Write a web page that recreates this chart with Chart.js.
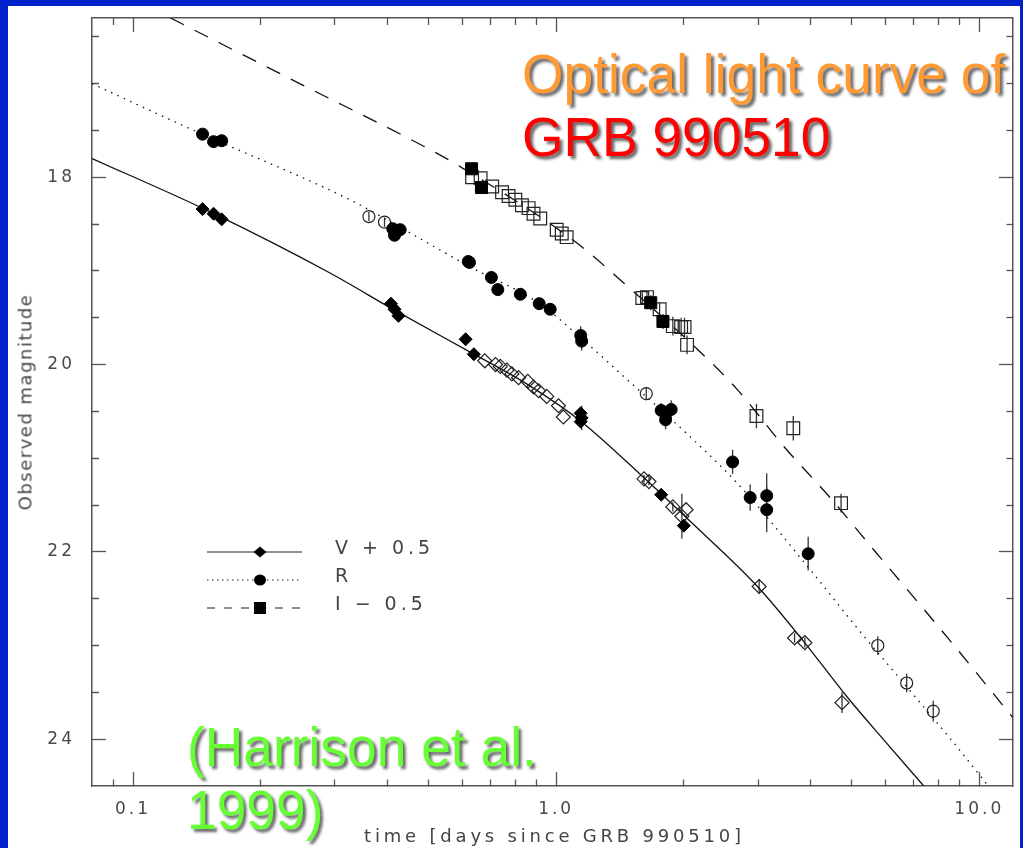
<!DOCTYPE html>
<html>
<head>
<meta charset="utf-8">
<title>GRB 990510 optical light curve</title>
<script src="https://cdn.jsdelivr.net/npm/chart.js@4.4.1/dist/chart.umd.min.js"></script>
<style>
  html, body { margin: 0; padding: 0; }
  body { width: 1023px; height: 848px; background: #0022cc; position: relative; overflow: hidden; }
  #sheet { position: absolute; left: 8px; top: 6px; width: 1012px; height: 842px; background: #fff; }
  #lc { position: absolute; left: 0; top: 0; }
  .axis-title { position: absolute; font-family: 'DejaVu Sans', sans-serif; color: #444; white-space: nowrap; }
  #xTitle { left: 92px; width: 925px; top: 825px; font-size: 18px; line-height: 21px; letter-spacing: 3.8px; text-align: center; }
  #yTitle { left: 25px; top: 402px; font-size: 18px; line-height: 21px; letter-spacing: 1.5px; transform: translate(-50%, -50%) rotate(-90deg); }
  .slide-text { position: absolute; font-family: 'Liberation Sans', Arial, sans-serif; font-size: 55px; line-height: 63px; white-space: nowrap; text-shadow: 3px 3px 3px rgba(0, 0, 0, 0.6); transform-origin: 0 0; transform: scaleX(0.97); }
  #headline { left: 522px; top: 43px; }
  #headline .l1 { color: #ff9933; }
  #headline .l2 { color: #ff0000; }
  #credit { left: 187px; top: 716px; color: #66ff33; }
</style>
</head>
<body>
<div id="sheet"></div>
<canvas id="lc" width="1023" height="848"></canvas>
<div class="axis-title" id="xTitle">time [days since GRB 990510]</div>
<div class="axis-title" id="yTitle">Observed magnitude</div>
<div class="slide-text" id="headline"><span class="l1">Optical light curve of</span><br><span class="l2">GRB 990510</span></div>
<div class="slide-text" id="credit">(Harrison et al.<br>1999)</div>

<script>
// V band, shifted by +0.5 mag
const vFillT   = [0.146, 0.155, 0.162, 0.407, 0.415, 0.424, 0.611, 0.639, 1.143, 1.149, 1.143, 1.771, 2.003];
const vFillMag = [18.34, 18.39, 18.45, 19.35, 19.41, 19.48, 19.73, 19.89, 20.52, 20.57, 20.61, 21.39, 21.72];
const vFillErr = [0, 0, 0, 0, 0, 0, 0, 0, 0, 0.13, 0, 0.05, 0];

const vOpenT   = [0.678, 0.719, 0.738, 0.765, 0.786, 0.815, 0.857, 0.884, 0.909, 0.950, 1.013, 1.040,
                  1.613, 1.657, 1.887, 2.028, 1.982, 3.018, 3.660, 3.871, 4.738];
const vOpenMag = [19.96, 20.00, 20.02, 20.06, 20.10, 20.14, 20.18, 20.24, 20.28, 20.34, 20.44, 20.56,
                  21.22, 21.25, 21.52, 21.55, 21.62, 22.37, 22.92, 22.97, 23.61];
const vOpenErr = [0, 0, 0, 0, 0, 0, 0, 0, 0, 0, 0, 0,
                  0.04, 0.04, 0.05, 0, 0.24, 0.08, 0.05, 0.05, 0.11];

// R band
const rFillT   = [0.146, 0.155, 0.162, 0.411, 0.418, 0.428, 0.415, 0.620, 0.624, 0.703, 0.728, 0.823,
                  0.912, 0.968, 1.143, 1.149, 1.771, 1.870, 1.814, 2.612, 2.874, 3.145, 3.145, 3.941];
const rFillMag = [17.54, 17.62, 17.61, 18.55, 18.58, 18.56, 18.62, 18.90, 18.91, 19.07, 19.20, 19.25,
                  19.35, 19.41, 19.69, 19.75, 20.49, 20.48, 20.59, 21.04, 21.42, 21.40, 21.55, 22.02];
const rFillErr = [0, 0, 0, 0, 0, 0, 0.05, 0, 0.03, 0, 0, 0.03,
                  0, 0, 0.1, 0.1, 0.08, 0.1, 0.1, 0.13, 0.14, 0.24, 0.24, 0.18];

const rOpenT   = [0.361, 0.393, 1.633, 5.756, 6.736, 7.784];
const rOpenMag = [18.42, 18.48, 20.31, 23.00, 23.40, 23.70];
const rOpenErr = [0.05, 0.05, 0.07, 0.10, 0.10, 0.11];

// I band, shifted by -0.5 mag
const iFillT   = [0.631, 0.666, 1.673, 1.788];
const iFillMag = [17.91, 18.11, 19.34, 19.54];
const iFillErr = [0, 0, 0.08, 0.08];

const iOpenT   = [0.633, 0.663, 0.706, 0.745, 0.772, 0.801, 0.830, 0.861, 0.884, 0.917, 1.003, 1.031,
                  1.059, 1.598, 1.639, 1.756, 1.887, 1.974, 2.011, 2.039, 2.974, 3.634, 4.713];
const iOpenMag = [18.00, 18.01, 18.10, 18.16, 18.20, 18.24, 18.30, 18.33, 18.39, 18.44, 18.56, 18.60,
                  18.64, 19.29, 19.28, 19.41, 19.59, 19.60, 19.60, 19.79, 20.55, 20.68, 21.48];
const iOpenErr = [0, 0, 0, 0, 0, 0, 0, 0, 0, 0, 0, 0,
                  0, 0.06, 0.06, 0.07, 0.1, 0.1, 0.1, 0.1, 0.13, 0.13, 0.1];

// model light curves, one per band
const vFitT   = [0.08, 0.1522, 0.2914, 0.4189, 0.622, 0.861, 1.147, 1.622, 2.047, 3.006, 3.836, 4.873, 5.953, 7.393];
const vFitMag = [17.80, 18.37, 19.02, 19.43, 19.86, 20.22, 20.61, 21.22, 21.65, 22.38, 22.95, 23.55, 24.01, 24.50];

const rFitT   = [0.08, 0.110, 0.1457, 0.3252, 0.4496, 0.622, 0.9136, 1.147, 1.479, 1.908, 2.683, 3.984, 5.138, 6.736, 8.596, 10.50];
const rFitMag = [17.00, 17.29, 17.54, 18.24, 18.59, 18.95, 19.35, 19.72, 20.17, 20.62, 21.27, 22.19, 22.81, 23.44, 24.01, 24.50];

const iFitT   = [0.1226, 0.2477, 0.5009, 0.5796, 1.110, 1.479, 2.126, 2.683, 3.460, 4.440, 5.634, 8.502, 12.0];
const iFitMag = [16.30, 17.00, 17.70, 17.86, 18.69, 19.17, 19.81, 20.27, 20.88, 21.42, 21.98, 22.94, 23.77];

// axes
const dayTicks  = [0.09, 0.1, 0.2, 0.3, 0.4, 0.5, 0.6, 0.7, 0.8, 0.9, 1, 2, 3, 4, 5, 6, 7, 8, 9, 10];
const dayMajor  = [0.1, 1, 10];
const dayLabels = ['0.1', '1.0', '10.0'];
const magTicks  = [16.5, 17, 17.5, 18, 18.5, 19, 19.5, 20, 20.5, 21, 21.5, 22, 22.5, 23, 23.5, 24];
const magMajor  = [18, 20, 22, 24];
const magLabels = ['18', '20', '22', '24'];

const key = [
    { label: 'V + 0.5', dash: [], shape: 'diamond' },
    { label: 'R', dash: [1.5, 3.5], shape: 'circle' },
    { label: 'I \u2212 0.5', dash: [8, 9], shape: 'square' }
];

function points(t, m) {
    return t.map((d, i) => ({ x: d, y: m[i] }));
}

function markers(t, m, err, style, radius, filled) {
    return {
        data: points(t, m),
        errors: err,
        pointStyle: style,
        pointRadius: radius,
        pointBorderWidth: filled ? 1 : 1.2,
        pointBackgroundColor: filled ? '#000' : 'rgba(0,0,0,0)',
        pointBorderColor: filled ? '#000' : '#222',
        showLine: false
    };
}

function curve(t, m, dash) {
    return {
        data: points(t, m),
        showLine: true,
        pointRadius: 0,
        borderColor: '#111',
        borderWidth: 1.3,
        borderDash: dash,
        cubicInterpolationMode: 'monotone'
    };
}

// minor ticks are half as long as the major ones
function tickDash(majors, fromInside) {
    return (ctx) => {
        if (!ctx.tick || majors.includes(ctx.tick.value)) return [];
        return fromInside ? [0, 7, 7, 40] : [7, 40];
    };
}

function axisGrid(majors, fromInside) {
    return {
        drawOnChartArea: false,
        drawTicks: true,
        tickLength: -14,
        tickColor: '#555',
        tickWidth: 1.3,
        tickBorderDash: tickDash(majors, fromInside)
    };
}

// fixed box sizes, no extra room for overhanging labels
function fixSize(w, h) {
    return (s) => {
        if (w !== null) s.width = w;
        if (h !== null) s.height = h;
        s.paddingLeft = s.paddingRight = s.paddingTop = s.paddingBottom = 0;
    };
}

const tickFont = { family: 'DejaVu Sans', size: 17 };
const frame = { display: true, color: '#555', width: 1.5 };

// error bars sit under the symbols
const errorBars = {
    id: 'errorBars',
    beforeDatasetsDraw(chart) {
        const { ctx, scales: { x, y } } = chart;
        ctx.save();
        ctx.strokeStyle = '#333';
        ctx.lineWidth = 1.3;
        chart.data.datasets.forEach(ds => {
            if (!ds.errors) return;
            ds.data.forEach((p, i) => {
                const e = ds.errors[i];
                if (!e) return;
                const px = x.getPixelForValue(p.x);
                ctx.beginPath();
                ctx.moveTo(px, y.getPixelForValue(p.y - e));
                ctx.lineTo(px, y.getPixelForValue(p.y + e));
                ctx.stroke();
            });
        });
        ctx.restore();
    }
};

// spaced-out lettering for the tick labels
const spacing = {
    id: 'spacing',
    beforeDraw(chart) { chart.ctx.letterSpacing = '3px'; },
    afterDraw(chart) { chart.ctx.letterSpacing = '0px'; }
};

function drawShape(ctx, shape, x, y) {
    ctx.beginPath();
    if (shape === 'diamond') {
        ctx.moveTo(x - 6.5, y); ctx.lineTo(x, y - 5.5); ctx.lineTo(x + 6.5, y); ctx.lineTo(x, y + 5.5);
        ctx.closePath();
    } else if (shape === 'circle') {
        ctx.ellipse(x, y, 6, 5.5, 0, 0, Math.PI * 2);
    } else {
        ctx.rect(x - 6, y - 6, 12, 12);
    }
    ctx.fill();
}

// band key in the lower left of the plot
const bandKey = {
    id: 'bandKey',
    afterDatasetsDraw(chart) {
        const { ctx, chartArea: a } = chart;
        ctx.save();
        key.forEach((row, i) => {
            const y = a.top + 534 + i * 28;
            const x0 = a.left + 115;
            ctx.strokeStyle = '#222';
            ctx.lineWidth = 1.2;
            ctx.setLineDash(row.dash);
            ctx.beginPath();
            ctx.moveTo(x0, y);
            ctx.lineTo(x0 + 95, y);
            ctx.stroke();
            ctx.setLineDash([]);
            ctx.fillStyle = '#000';
            drawShape(ctx, row.shape, x0 + 53, y);
            ctx.fillStyle = '#444';
            ctx.font = '19px "DejaVu Sans"';
            ctx.letterSpacing = '4px';
            ctx.textAlign = 'left';
            ctx.textBaseline = 'alphabetic';
            ctx.fillText(row.label, a.left + 243, y + 1.5);
        });
        ctx.restore();
    }
};

const setDayTicks = (axis) => { axis.ticks = dayTicks.map(v => ({ value: v, major: dayMajor.includes(v) })); };
const setMagTicks = (axis) => { axis.ticks = magTicks.map(v => ({ value: v, major: magMajor.includes(v) })); };

new Chart(document.getElementById('lc'), {
    type: 'scatter',
    data: {
        datasets: [
            markers(vFillT, vFillMag, vFillErr, 'rectRot', 6.5, true),
            markers(vOpenT, vOpenMag, vOpenErr, 'rectRot', 7, false),
            markers(rFillT, rFillMag, rFillErr, 'circle', 6, true),
            markers(rOpenT, rOpenMag, rOpenErr, 'circle', 6, false),
            markers(iFillT, iFillMag, iFillErr, 'rect', 8.5, true),
            markers(iOpenT, iOpenMag, iOpenErr, 'rect', 9, false),
            curve(vFitT, vFitMag, []),
            curve(rFitT, rFitMag, [1.5, 5.5]),
            curve(iFitT, iFitMag, [15, 12])
        ]
    },
    options: {
        responsive: false,
        animation: false,
        devicePixelRatio: 1,
        layout: { padding: 0 },
        events: [],
        plugins: { legend: { display: false }, tooltip: { enabled: false } },
        scales: {
            x: {
                type: 'logarithmic', position: 'bottom', min: 0.08, max: 12,
                afterBuildTicks: setDayTicks,
                afterFit: fixSize(null, 62),
                ticks: {
                    autoSkip: false, maxRotation: 0, padding: 27, color: '#4a4a4a', font: tickFont,
                    callback: (v) => { const k = dayMajor.indexOf(v); return k >= 0 ? dayLabels[k] : ''; }
                },
                grid: axisGrid(dayMajor, false),
                border: frame
            },
            y: {
                type: 'linear', position: 'left', reverse: true, min: 16.3, max: 24.5,
                afterBuildTicks: setMagTicks,
                afterFit: fixSize(92, null),
                ticks: {
                    autoSkip: false, padding: 31, color: '#4a4a4a', font: tickFont,
                    callback: (v) => { const k = magMajor.indexOf(v); return k >= 0 ? magLabels[k] : ''; }
                },
                grid: axisGrid(magMajor, true),
                border: frame
            },
            xTop: {
                type: 'logarithmic', position: 'top', min: 0.08, max: 12,
                afterBuildTicks: setDayTicks,
                afterFit: fixSize(null, 18),
                ticks: { display: false },
                grid: axisGrid(dayMajor, true),
                border: frame
            },
            yRight: {
                type: 'linear', position: 'right', reverse: true, min: 16.3, max: 24.5,
                afterBuildTicks: setMagTicks,
                afterFit: fixSize(6, null),
                ticks: { display: false },
                grid: axisGrid(magMajor, false),
                border: frame
            }
        }
    },
    plugins: [spacing, errorBars, bandKey]
});
</script>
</body>
</html>
